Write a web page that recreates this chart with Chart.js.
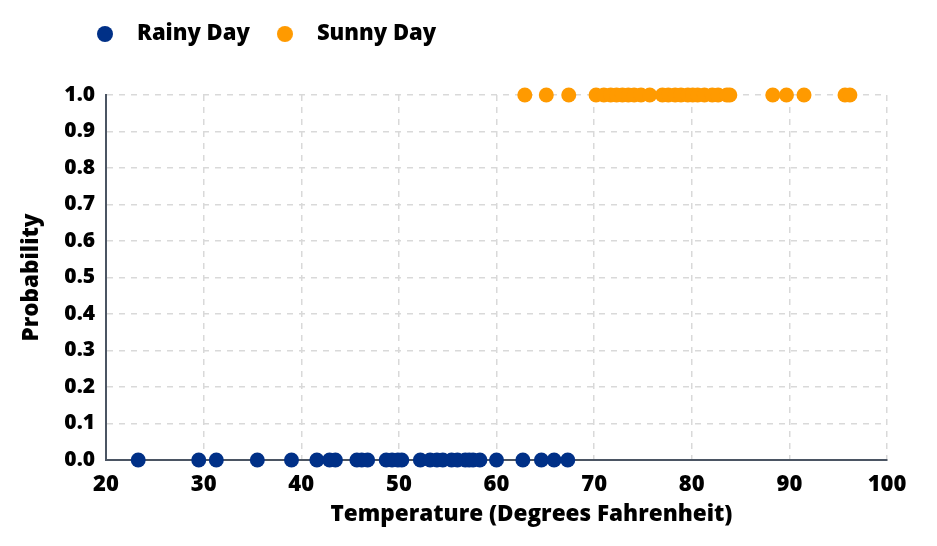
<!DOCTYPE html>
<html>
<head>
<meta charset="utf-8">
<script src="https://cdn.jsdelivr.net/npm/chart.js@4"></script>
<style>
  html, body { margin: 0; padding: 0; background: #ffffff; }
  #wrap { width: 937px; height: 546px; position: relative; }
</style>
</head>
<body>
<div id="wrap"><canvas id="c"></canvas></div>
<script>
// ---- data ----
const seriesNames = ['Rainy Day', 'Sunny Day'];
const rainyTemps = [23.3, 29.5, 31.3, 35.5, 39.0, 41.6, 42.9, 43.5, 45.7, 46.2, 46.8,
  48.7, 49.3, 49.9, 50.3, 52.2, 53.2, 53.9, 54.5, 55.4, 56.0, 56.8, 57.2, 57.6, 58.3,
  60.0, 62.7, 64.6, 65.9, 67.3];
const rainyProb = rainyTemps.map(() => 0);
const sunnyTemps = [62.9, 65.1, 67.4, 70.2, 71.0, 71.7, 72.3, 72.9, 73.5, 74.1, 74.8, 75.7,
  77.0, 77.6, 78.3, 78.9, 79.6, 80.1, 80.6, 81.3, 82.1, 82.7, 83.6, 83.9,
  88.3, 89.7, 91.5, 95.7, 96.2];
const sunnyProb = sunnyTemps.map(() => 1);
const xTitle = 'Temperature (Degrees Fahrenheit)';
const yTitle = 'Probability';

const BLUE = '#003087';
const ORANGE = '#ff9a00';
const FONT = "'Open Sans', 'Noto Sans', sans-serif";

function pts(xs, ys) { return xs.map((x, i) => ({ x: x, y: ys[i] })); }

function dotCanvas(color, d) {
  const cv = document.createElement('canvas');
  cv.width = d; cv.height = d;
  const g = cv.getContext('2d');
  g.fillStyle = color;
  g.beginPath(); g.arc(d / 2, d / 2, d / 2, 0, Math.PI * 2); g.fill();
  return cv;
}

const layoutTweaks = {
  id: 'layoutTweaks',
  beforeInit(chart) {
    const lg = chart.legend;
    if (lg) {
      const f = lg.fit.bind(lg);
      lg.fit = function () { f(); this.height = 86; };
    }
  },
  beforeDraw(chart) {
    const lg = chart.legend;
    if (lg) { const w = lg.right - lg.left; lg.left = 70; lg.right = 70 + w; }
    const sx = chart.scales.x;
    if (sx && !sx._titleShifted) {
      const orig = sx.drawTitle;
      sx.drawTitle = function () {
        const l = this.left, r = this.right;
        this.left = l + 35; this.right = r + 35;
        orig.call(this);
        this.left = l; this.right = r;
      };
      sx._titleShifted = true;
    }
  }
};

new Chart(document.getElementById('c'), {
  type: 'scatter',
  data: {
    datasets: [
      { label: seriesNames[0], data: pts(rainyTemps, rainyProb), backgroundColor: BLUE, borderColor: BLUE,
        pointRadius: 7.5, pointHoverRadius: 7.5, borderWidth: 0, clip: false },
      { label: seriesNames[1], data: pts(sunnyTemps, sunnyProb), backgroundColor: ORANGE, borderColor: ORANGE,
        pointRadius: 7.5, pointHoverRadius: 7.5, borderWidth: 0, clip: false }
    ]
  },
  options: {
    responsive: true,
    maintainAspectRatio: false,
    animation: false,
    layout: { padding: { top: 9, left: 0, right: 50, bottom: 0 } },
    plugins: {
      tooltip: { enabled: false },
      legend: {
        position: 'top',
        align: 'start',
        labels: {
          usePointStyle: true,
          pointStyleWidth: 42,
          boxHeight: 16,
          padding: 14,
          color: '#000',
          font: { family: FONT, size: 22, weight: 800 },
          generateLabels(chart) {
            const items = Chart.defaults.plugins.legend.labels.generateLabels(chart);
            items.forEach((it, i) => { it.pointStyle = dotCanvas(i === 0 ? BLUE : ORANGE, 16); });
            return items;
          }
        }
      }
    },
    scales: {
      x: {
        type: 'linear',
        min: 20, max: 100,
        afterFit(s) { s.height = 86; },
        ticks: { stepSize: 10, padding: 12, color: '#000', font: { family: FONT, size: 22, weight: 800 } },
        grid: { color: '#d9d9d9', lineWidth: 1.5, drawTicks: false },
        border: { display: true, color: '#4b5563', width: 2, dash: [6, 6] },
        title: { display: true, text: xTitle, color: '#000', font: { family: FONT, size: 22.5, weight: 800 },
          padding: { top: 0, bottom: 18 } }
      },
      y: {
        min: 0, max: 1,
        afterFit(s) { s.width = 106; },
        ticks: { stepSize: 0.1, padding: 11, color: '#000', font: { family: FONT, size: 21, weight: 800 },
          callback: v => Number(v).toFixed(1) },
        grid: { color: '#d9d9d9', lineWidth: 1.5, drawTicks: false },
        border: { display: true, color: '#4b5563', width: 2, dash: [6, 6] },
        title: { display: true, text: yTitle, color: '#000', font: { family: FONT, size: 22.5, weight: 800 },
          padding: { top: 18.5, bottom: 0 } }
      }
    }
  },
  plugins: [layoutTweaks]
});
</script>
</body>
</html>
